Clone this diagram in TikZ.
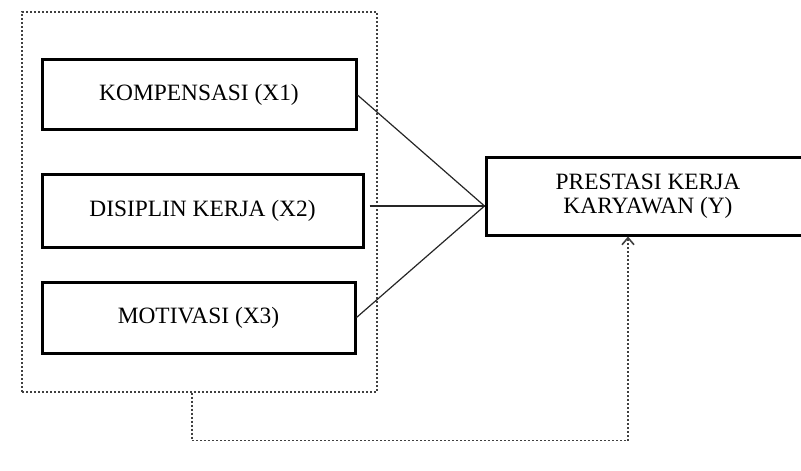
\documentclass[tikz,border=0pt]{standalone}
\usepackage{fontspec}
\setmainfont{Liberation Serif}
\usetikzlibrary{arrows.meta,positioning,calc}

\tikzset{
    var/.style={draw, line width=1.5pt, align=center, inner sep=0pt,
        font=\fontsize{11.7}{12}\selectfont},
    grp/.style={draw=black!75, line width=0.55pt, dash pattern=on 1pt off 1pt},
    rel/.style={draw=black!85, line width=0.6pt},
    dep/.style={grp, -{Straight Barb[length=3.5pt,width=6pt,line width=0.8pt]}}
}

\begin{document}
\begin{tikzpicture}
        \useasboundingbox (0pt,0pt) rectangle (400.5pt,-235pt);
        % variabel bebas
        \node[grp, minimum width=177.5pt, minimum height=190pt] (frame) at (99.75pt,-101pt) {};
        \node[var, minimum width=157pt, minimum height=35pt] (x1) at (99.5pt,-47.5pt) {KOMPENSASI (X1)};
        \node[var, minimum width=160.5pt, minimum height=36pt] (x2) at (101.25pt,-105.5pt) {DISIPLIN KERJA (X2)};
        \node[var, minimum width=156.5pt, minimum height=35.5pt] (x3) at (99.25pt,-158.75pt) {MOTIVASI (X3)};
        % variabel terikat
        \node[var, minimum width=162pt, minimum height=38.5pt] (y) at (324pt,-98.25pt) {PRESTASI KERJA\\KARYAWAN (Y)};
        \coordinate (hub) at ($(y.west)+(0,-4.75pt)$);

        \draw[rel] (x1.east) -- (hub);
        \draw[rel, shorten <=2.5pt] (x2.east |- hub) -- (hub);
        \draw[rel] (x3.east) -- (hub);
        \draw[dep] ([xshift=-3.75pt]frame.south) -- ++(0,-24pt) -| ([xshift=-10pt]y.south);
\end{tikzpicture}
\end{document}
